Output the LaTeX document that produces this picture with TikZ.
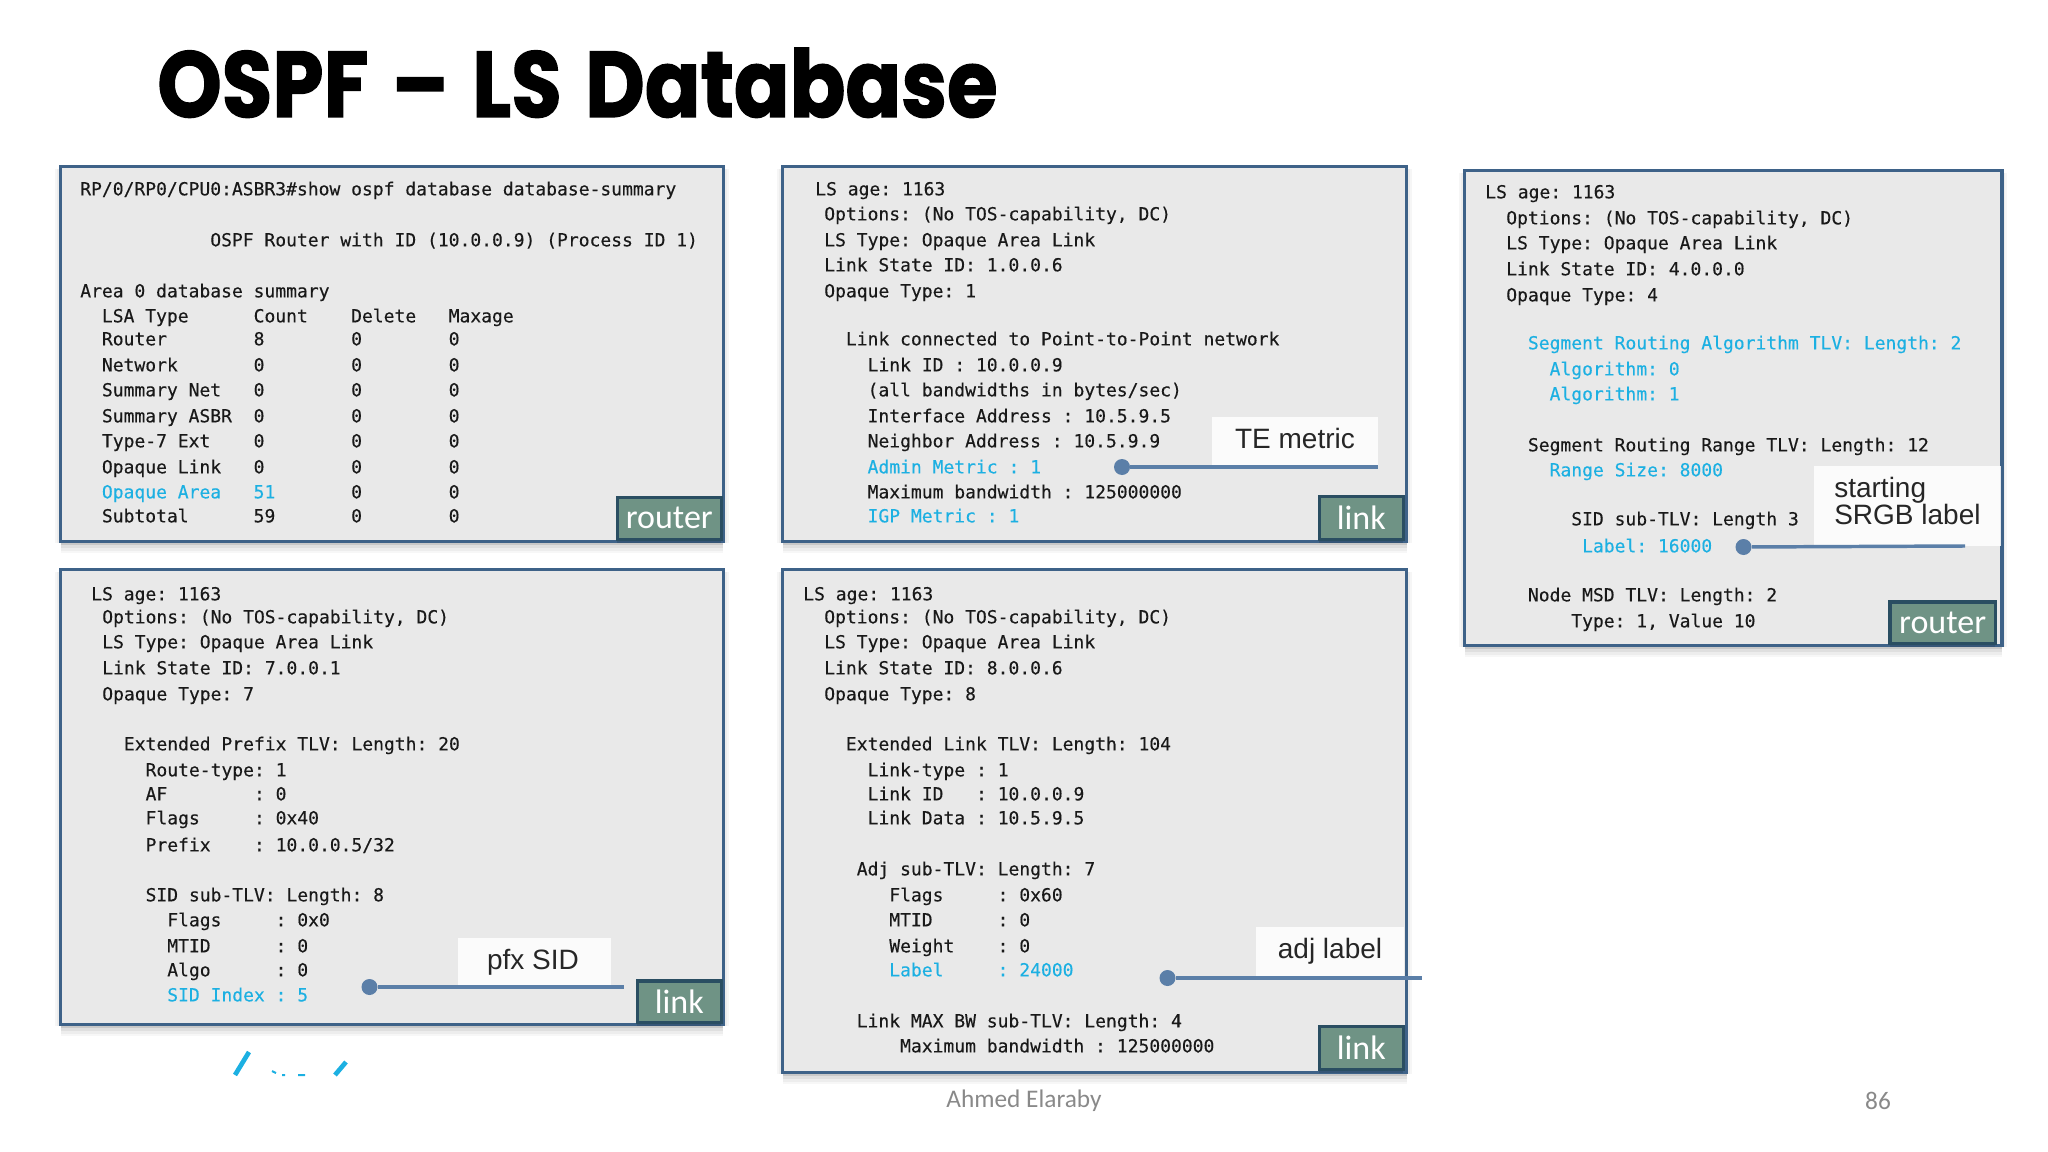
\documentclass[tikz,border=0pt]{standalone}
\usepackage{fontspec}
\usepackage{graphicx}
\usetikzlibrary{shadows}
\newfontfamily\termfont[FakeBold=0.25]{DejaVu Sans Mono}
\newfontfamily\titlefont[BoldFont=Poppins Bold,BoldFeatures={FakeBold=1.5}]{Poppins}
\newfontfamily\badgefont{Carlito}
\newfontfamily\notefont{Liberation Sans}
\definecolor{panelfill}{RGB}{233,233,233}
\definecolor{panelline}{RGB}{62,98,136}
\definecolor{badgefill}{RGB}{111,147,133}
\definecolor{badgeline}{RGB}{42,78,98}
\definecolor{pinline}{RGB}{91,127,168}
\definecolor{termcyan}{RGB}{28,176,226}
\definecolor{footgray}{RGB}{137,137,137}
\tikzset{
  softshadow/.style={general shadow={shadow xshift=#1,shadow yshift=-1.5pt,fill=black,opacity=.035},
    general shadow={shadow xshift=-#1,shadow yshift=-1.5pt,fill=black,opacity=.035}},
  panelbox/.style={draw=panelline,fill=panelfill,line width=2.5pt,anchor=north west,inner sep=0pt,
    general shadow={shadow xshift=0pt,shadow yshift=-9pt,fill=black,opacity=.03},
    general shadow={shadow xshift=0pt,shadow yshift=-7pt,fill=black,opacity=.04},
    general shadow={shadow xshift=0pt,shadow yshift=-5pt,fill=black,opacity=.06},
    general shadow={shadow xshift=0pt,shadow yshift=-3pt,fill=black,opacity=.10},
    softshadow=4pt,softshadow=2.5pt},
  termtext/.style={anchor=base west,inner sep=0pt,yshift=-1pt,text=black!90,font=\termfont\fontsize{13.5}{16}\selectfont\frenchspacing},
  termcyantext/.style={termtext,text=termcyan},
  badgebox/.style={draw=badgeline,fill=badgefill,line width=2.5pt,anchor=south east,inner sep=0pt,text=white,
    font=\badgefont\fontsize{25.5}{30}\selectfont,
    general shadow={shadow xshift=0pt,shadow yshift=-3pt,fill=black,opacity=.12}},
  notebox/.style={fill=white,fill opacity=.85,text opacity=1,anchor=south east,inner sep=0pt,text=black!85,
    font=\notefont\fontsize{21}{26}\selectfont},
  pindot/.style={circle,fill=pinline,minimum size=12pt,inner sep=0pt},
  pinwire/.style={draw=pinline,line width=2.6pt},
  footnotetext/.style={inner sep=0pt,text=footgray,font=\badgefont\fontsize{19}{23}\selectfont},
}
\begin{document}
\begin{tikzpicture}[x=0.75pt,y=0.75pt,yscale=-1,xscale=1]
	\useasboundingbox (0,0) rectangle (2048,1152);

	% title
	\node [anchor=base west,inner sep=0pt,font=\titlefont\bfseries\fontsize{70}{80}\selectfont] (title) at (157,117) {\scalebox{0.88}[1]{OSPF \hspace{5pt}– \hspace{5pt}LS \hspace{5pt}Database}};

	% panels
	\node [panelbox,minimum width=497pt,minimum height=281pt] (summary) at (59,165) {};
	\node [panelbox,minimum width=497pt,minimum height=341pt] (prefix) at (59,568) {};
	\node [panelbox,minimum width=468pt,minimum height=281pt] (temetric) at (781,165) {};
	\node [panelbox,minimum width=468pt,minimum height=377pt] (extlink) at (781,568) {};
	\node [panelbox,minimum width=403pt,minimum height=356pt] (srgb) at (1463,169) {};

	% database summary
	\node [termtext] (sa) at (80,194) {RP/0/RP0/CPU0:ASBR3\#show ospf database database-summary};
	\node [termtext] (sb) at (80,245) {~~~~~~~~~~~~OSPF Router with ID (10.0.0.9) (Process ID 1)};
	\node [termtext] (sc) at (80,296) {Area 0 database summary};
	\node [termtext] (sd) at (80,321) {~~LSA Type~~~~~~Count~~~~Delete~~~Maxage};
	\node [termtext] (se) at (80,344) {~~Router~~~~~~~~8~~~~~~~~0~~~~~~~~0};
	\node [termtext] (sf) at (80,370) {~~Network~~~~~~~0~~~~~~~~0~~~~~~~~0};
	\node [termtext] (sg) at (80,395) {~~Summary Net~~~0~~~~~~~~0~~~~~~~~0};
	\node [termtext] (sh) at (80,421) {~~Summary ASBR~~0~~~~~~~~0~~~~~~~~0};
	\node [termtext] (si) at (80,446) {~~Type-7 Ext~~~~0~~~~~~~~0~~~~~~~~0};
	\node [termtext] (sj) at (80,472) {~~Opaque Link~~~0~~~~~~~~0~~~~~~~~0};
	\node [termtext] (sk) at (80,497) {~~\textcolor{termcyan}{Opaque Area~~~51}~~~~~~~0~~~~~~~~0};
	\node [termtext] (sl) at (80,521) {~~Subtotal~~~~~~59~~~~~~~0~~~~~~~~0};

	% extended prefix
	\node [termtext] (pa) at (91,599) {LS age: 1163};
	\node [termtext] (pb) at (102,622) {Options: (No TOS-capability, DC)};
	\node [termtext] (pc) at (102,647) {LS Type: Opaque Area Link};
	\node [termtext] (pd) at (102,673) {Link State ID: 7.0.0.1};
	\node [termtext] (pe) at (102,699) {Opaque Type: 7};
	\node [termtext] (pf) at (102,749) {~~Extended Prefix TLV: Length: 20};
	\node [termtext] (pg) at (102,775) {~~~~Route-type: 1};
	\node [termtext] (ph) at (102,799) {~~~~AF~~~~~~~~: 0};
	\node [termtext] (pi) at (102,823) {~~~~Flags~~~~~: 0x40};
	\node [termtext] (pj) at (102,850) {~~~~Prefix~~~~: 10.0.0.5/32};
	\node [termtext] (pk) at (102,900) {~~~~SID sub-TLV: Length: 8};
	\node [termtext] (pl) at (102,925) {~~~~~~Flags~~~~~: 0x0};
	\node [termtext] (pm) at (102,951) {~~~~~~MTID~~~~~~: 0};
	\node [termtext] (pn) at (102,975) {~~~~~~Algo~~~~~~: 0};
	\node [termcyantext] (po) at (102,1000) {~~~~~~SID Index : 5};

	% TE metric
	\node [termtext] (ta) at (815,194) {LS age: 1163};
	\node [termtext] (tb) at (824,219) {Options: (No TOS-capability, DC)};
	\node [termtext] (tc) at (824,245) {LS Type: Opaque Area Link};
	\node [termtext] (td) at (824,270) {Link State ID: 1.0.0.6};
	\node [termtext] (te) at (824,296) {Opaque Type: 1};
	\node [termtext] (tf) at (824,344) {~~Link connected to Point-to-Point network};
	\node [termtext] (tg) at (824,370) {~~~~Link ID : 10.0.0.9};
	\node [termtext] (th) at (824,395) {~~~~(all bandwidths in bytes/sec)};
	\node [termtext] (ti) at (824,421) {~~~~Interface Address : 10.5.9.5};
	\node [termtext] (tj) at (824,446) {~~~~Neighbor Address : 10.5.9.9};
	\node [termcyantext] (tk) at (824,472) {~~~~Admin Metric : 1};
	\node [termtext] (tl) at (824,497) {~~~~Maximum bandwidth : 125000000};
	\node [termcyantext] (tm) at (824,521) {~~~~IGP Metric : 1};

	% extended link
	\node [termtext] (la) at (803,599) {LS age: 1163};
	\node [termtext] (lb) at (824,622) {Options: (No TOS-capability, DC)};
	\node [termtext] (lc) at (824,647) {LS Type: Opaque Area Link};
	\node [termtext] (ld) at (824,673) {Link State ID: 8.0.0.6};
	\node [termtext] (le) at (824,699) {Opaque Type: 8};
	\node [termtext] (lf) at (824,749) {~~Extended Link TLV: Length: 104};
	\node [termtext] (lg) at (824,775) {~~~~Link-type : 1};
	\node [termtext] (lh) at (824,799) {~~~~Link ID~~~: 10.0.0.9};
	\node [termtext] (li) at (824,823) {~~~~Link Data : 10.5.9.5};
	\node [termtext] (lj) at (824,874) {~~~Adj sub-TLV: Length: 7};
	\node [termtext] (lk) at (824,900) {~~~~~~Flags~~~~~: 0x60};
	\node [termtext] (ll) at (824,925) {~~~~~~MTID~~~~~~: 0};
	\node [termtext] (lm) at (824,951) {~~~~~~Weight~~~~: 0};
	\node [termcyantext] (ln) at (824,975) {~~~~~~Label~~~~~: 24000};
	\node [termtext] (lo) at (824,1026) {~~~Link MAX BW sub-TLV: Length: 4};
	\node [termtext] (lp) at (824,1051) {~~~~~~~Maximum bandwidth : 125000000};

	% SRGB
	\node [termtext] (ra) at (1485,197) {LS age: 1163};
	\node [termtext] (rb) at (1506,223) {Options: (No TOS-capability, DC)};
	\node [termtext] (rc) at (1506,248) {LS Type: Opaque Area Link};
	\node [termtext] (rd) at (1506,274) {Link State ID: 4.0.0.0};
	\node [termtext] (re) at (1506,300) {Opaque Type: 4};
	\node [termcyantext] (rf) at (1506,348) {~~Segment Routing Algorithm TLV: Length: 2};
	\node [termcyantext] (rg) at (1506,374) {~~~~Algorithm: 0};
	\node [termcyantext] (rh) at (1506,399) {~~~~Algorithm: 1};
	\node [termtext] (ri) at (1506,450) {~~Segment Routing Range TLV: Length: 12};
	\node [termcyantext] (rj) at (1506,475) {~~~~Range Size: 8000};
	\node [termtext] (rk) at (1506,524) {~~~~~~SID sub-TLV: Length 3};
	\node [termcyantext] (rl) at (1506,551) {~~~~~~~Label: 16000};
	\node [termtext] (rm) at (1506,600) {~~Node MSD TLV: Length: 2};
	\node [termtext] (rn) at (1506,626) {~~~~~~Type: 1, Value 10};

	% white label boxes
	\node [notebox,minimum width=114.75pt,minimum height=36.75pt] (pfxbox) at (611,987) {};
	\node [notebox,minimum width=124.5pt,minimum height=37.5pt] (tebox) at (1378,467) {};
	\node [notebox,minimum width=111pt,minimum height=38.25pt] (adjbox) at (1404,978) {};
	\node [notebox,minimum width=140.25pt,minimum height=60pt] (srgbbox) at (2001,546) {};
	\node [notebox,anchor=center,fill opacity=0] (pfxlabel) at (533,962.5) {pfx SID};
	\node [notebox,anchor=center,fill opacity=0] (telabel) at (1295,438) {TE metric};
	\node [notebox,anchor=center,fill opacity=0] (adjlabel) at (1330,951.5) {adj label};
	\node [notebox,anchor=base west,fill opacity=0] (startlabel) at (1834,497) {starting};
	\node [notebox,anchor=base west,fill opacity=0] (srgblabel) at (1834,524) {SRGB label};

	% pins
	\node [pindot] (pfxdot) at (369.5,987) {};
	\coordinate (pfxend) at (624,987);
	\draw [pinwire] (pfxdot) -- (pfxend);
	\node [pindot] (tedot) at (1122,467) {};
	\coordinate (teend) at (1378,467);
	\draw [pinwire] (tedot) -- (teend);
	\node [pindot] (adjdot) at (1167.5,978) {};
	\coordinate (adjend) at (1422,978);
	\draw [pinwire] (adjdot) -- (adjend);
	\node [pindot] (srgbdot) at (1743.5,547) {};
	\coordinate (srgbend) at (1965,546);
	\draw [pinwire] (srgbdot) -- (srgbend);

	% badges
	\node [badgebox,minimum width=78pt,minimum height=31.5pt] (routera) at (723,541) {router};
	\node [badgebox,minimum width=63pt,minimum height=31pt] (linka) at (723,1024) {link};
	\node [badgebox,minimum width=63pt,minimum height=32pt] (linkb) at (1405,541) {link};
	\node [badgebox,minimum width=63pt,minimum height=32pt] (linkc) at (1405,1071) {link};
	\node [badgebox,minimum width=79pt,minimum height=31pt] (routerb) at (1997,645) {router};

	% clipped cyan marks under the lower left panel
	\draw [termcyan,line width=3.5pt] (235,1075) -- (249,1052);
	\draw [termcyan,line width=3.5pt] (335,1075) -- (346,1062);
	\draw [termcyan,line width=1.5pt] (272,1071) -- (276,1073) (282,1075) -- (285,1075) (298,1075) -- (305,1075);

	% footer
	\node [footnotetext] (author) at (1024,1101) {Ahmed Elaraby};
	\node [footnotetext] (pagenum) at (1878,1101) {86};
\end{tikzpicture}
\end{document}
